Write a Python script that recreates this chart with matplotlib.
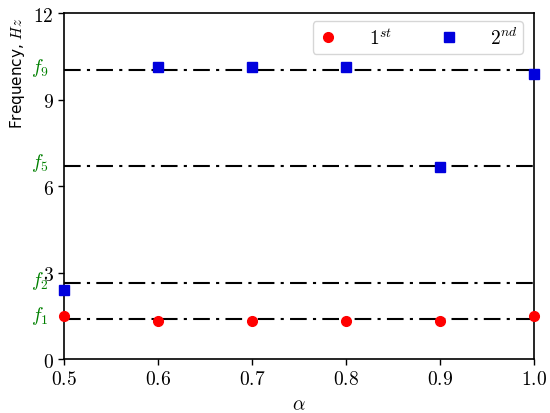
import matplotlib
matplotlib.use("Agg")
import matplotlib.pyplot as plt

plt.rcParams['mathtext.fontset'] = 'cm'
plt.rcParams['font.family'] = ['DejaVu Sans']

alpha = [0.5, 0.6, 0.7, 0.8, 0.9, 1.0]
first = [1.49, 1.33, 1.33, 1.33, 1.33, 1.49]
second = [2.39, 10.12, 10.12, 10.12, 6.65, 9.88]
ref_names = [r'$f_1$', r'$f_2$', r'$f_5$', r'$f_9$']
ref_vals = [1.40, 2.62, 6.70, 10.02]
xticks = [0.5, 0.6, 0.7, 0.8, 0.9, 1.0]
yticks = [0, 3, 6, 9, 12]

fig = plt.figure(figsize=(5.5, 4.14), dpi=100)
ax = fig.add_axes([0.1164, 0.1304, 0.8546, 0.8356])

for v in ref_vals:
    ax.axhline(v, color='black', linestyle='-.', linewidth=1.5, dashes=(8, 3, 1.5, 3), zorder=1)
ax.plot(alpha, first, 'o', color='red', markersize=7, linestyle='none', label=r'$1^{st}$', clip_on=False, zorder=3)
ax.plot(alpha, second, 's', color='#0000dd', markersize=6.5, linestyle='none', label=r'$2^{nd}$', clip_on=False, zorder=3)

ax.set_xlim(0.5, 1.0)
ax.set_ylim(0, 12)
ax.set_xticks(xticks)
ax.set_xticklabels([f'${t:.1f}$' for t in xticks], fontsize=14)
ax.set_yticks(yticks)
ax.set_yticklabels([f'${t}$' for t in yticks], fontsize=14)
ax.tick_params(direction='out', length=4, width=1)
for s in ax.spines.values():
    s.set_linewidth(1.2)

ax.set_xlabel(r'$\alpha$', fontsize=14)
ax.set_ylabel(r'Frequency, $Hz$', fontsize=11)
ax.yaxis.set_label_coords(-0.078, 0.83)

for n, v in zip(ref_names, ref_vals):
    ax.text(-0.052, v + 0.12, n, transform=ax.get_yaxis_transform(), color='green',
            fontsize=14, ha='center', va='center')

ax.legend(loc='upper right', ncol=2, fontsize=14, frameon=True, fancybox=True,
          borderpad=0.3, handletextpad=1.6, columnspacing=2.4, handlelength=1.0,
          bbox_to_anchor=(0.977, 0.978), borderaxespad=0)

fig.savefig('out.png', dpi=100)
